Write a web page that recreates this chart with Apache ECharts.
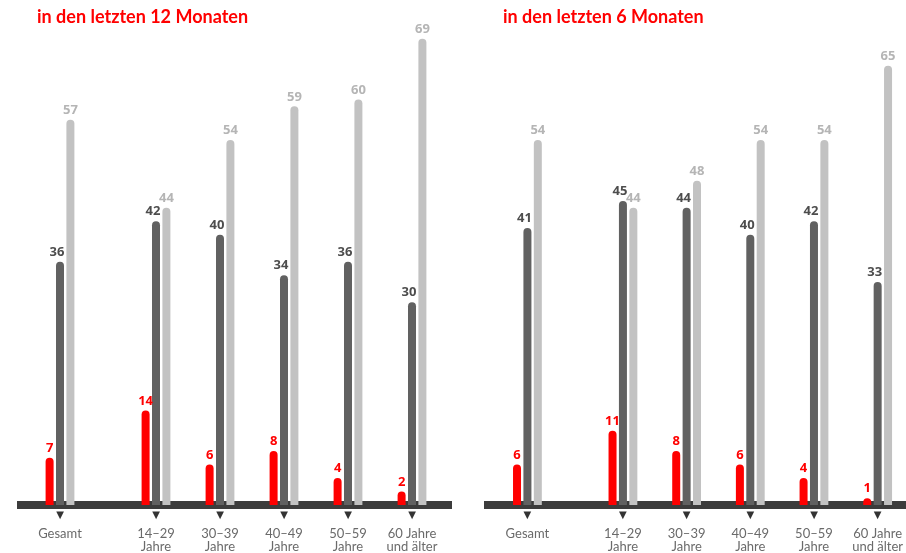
<!DOCTYPE html>
<html>
<head>
<meta charset="utf-8">
<title>Mediennutzung nach Altersgruppen</title>
<script src="https://cdn.jsdelivr.net/npm/echarts@6/dist/echarts.min.js"></script>
<style>
  html, body { margin: 0; padding: 0; background: #fff; }
  #chart { width: 906px; height: 553px; }
</style>
</head>
<body>
<div id="chart"></div>
<script>
// Age groups shown under each panel
const categories = ['Gesamt', '14–29\nJahre', '30–39\nJahre', '40–49\nJahre', '50–59\nJahre', '60 Jahre\nund älter'];

// Panel titles
const titles = ['in den letzten 12 Monaten', 'in den letzten 6 Monaten'];

// Values per panel: red, dark grey, light grey
const red12 = [7, 14, 6, 8, 4, 2];
const dark12 = [36, 42, 40, 34, 36, 30];
const light12 = [57, 44, 54, 59, 60, 69];

const red6 = [6, 11, 8, 6, 4, 1];
const dark6 = [41, 45, 44, 40, 42, 33];
const light6 = [54, 44, 48, 54, 54, 65];

// Slot index of each group on the x axis (wider gap after "Gesamt")
const slotOf = [0, 3, 5, 7, 9, 11];
const slotCount = 12;

const RED = '#ff0000';
const DARK = '#616161';
const LIGHT = '#c2c2c2';
const BAND = '#3c3c3c';

function spread(values) {
  const out = new Array(slotCount).fill('-');
  values.forEach((v, i) => { out[slotOf[i]] = v; });
  return out;
}
function slotLabels() {
  const out = new Array(slotCount).fill('');
  categories.forEach((c, i) => { out[slotOf[i]] = c; });
  return out;
}

const grids = [
  { left: 44, width: 384, top: 32, bottom: 47 },
  { left: 511.5, width: 384, top: 32, bottom: 47 }
];

function xAxis(gi) {
  return {
    type: 'category', gridIndex: gi, data: slotLabels(),
    boundaryGap: true,
    axisLine: { show: false }, axisTick: { show: false }, splitLine: { show: false },
    axisLabel: {
      interval: 0, margin: 5,
      formatter: function (v) {
        if (!v) return '';
        return '{t|▼}\n' + v.split('\n').map(s => '{l|' + s + '}').join('\n');
      },
      rich: {
        t: { fontSize: 10, lineHeight: 17, color: '#333', verticalAlign: 'top', fontFamily: 'DejaVu Sans' },
        l: { fontSize: 13, lineHeight: 13, color: '#6a6a6a', fontFamily: 'Lato' }
      }
    }
  };
}
function yAxis(gi) {
  return { type: 'value', gridIndex: gi, min: 0, max: 70, show: false, splitLine: { show: false } };
}

function barSeries(gi, values, color, labelColor, offsetX) {
  return {
    type: 'bar', xAxisIndex: gi, yAxisIndex: gi,
    data: spread(values),
    barWidth: 8, barGap: '30%',
    itemStyle: { color: color, borderRadius: [4, 4, 0, 0] },
    label: {
      show: true, position: 'top', distance: 3, offset: [offsetX, 0],
      color: labelColor, fontSize: 13, fontWeight: 'bold', fontFamily: 'Open Sans'
    },
    emphasis: { disabled: true },
    z: 3
  };
}

const chart = echarts.init(document.getElementById('chart'), null, { renderer: 'canvas' });

const titleStyle = { color: RED, fontSize: 18, fontWeight: 'bold', fontFamily: 'Lato' };
const option = {
  animation: false,
  backgroundColor: '#fff',
  title: [
    { text: titles[0], left: 37, top: 8, padding: 0, textStyle: titleStyle },
    { text: titles[1], left: 503, top: 8, padding: 0, textStyle: titleStyle }
  ],
  grid: grids,
  xAxis: [xAxis(0), xAxis(1)],
  yAxis: [yAxis(0), yAxis(1)],
  series: [
    barSeries(0, red12, RED, RED, 0),
    barSeries(0, dark12, DARK, '#4d4d4d', -3),
    barSeries(0, light12, LIGHT, '#b5b5b5', 0),
    barSeries(1, red6, RED, RED, 0),
    barSeries(1, dark6, DARK, '#4d4d4d', -3),
    barSeries(1, light6, LIGHT, '#b5b5b5', 0)
  ]
};
chart.setOption(option);

// Baseline bands drawn behind the bars at the zero line of each panel
const zeroY = chart.convertToPixel({ xAxisIndex: 0, yAxisIndex: 0 }, [0, 0])[1];
chart.setOption({
  graphic: [
    { type: 'rect', z: 0, shape: { x: 17, y: zeroY - 4, width: 435, height: 8 }, style: { fill: BAND } },
    { type: 'rect', z: 0, shape: { x: 484, y: zeroY - 4, width: 422, height: 8 }, style: { fill: BAND } }
  ]
});
</script>
</body>
</html>
